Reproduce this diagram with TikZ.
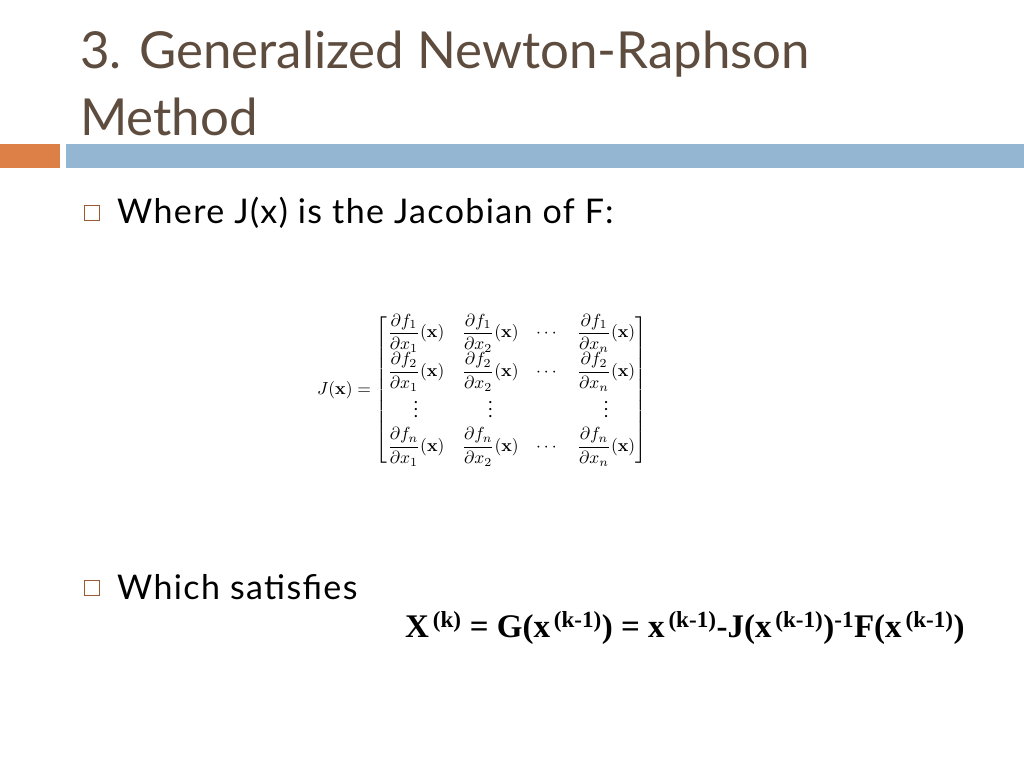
\documentclass[tikz,border=0pt]{standalone}
\usepackage{amsmath}
\usepackage{graphicx}
\usepackage[no-math]{fontspec}
\setmainfont{Lato}
\newfontfamily\formulafont{Liberation Serif}
\definecolor{titlebrown}{RGB}{94,76,62}
\definecolor{barorange}{RGB}{221,128,71}
\definecolor{barblue}{RGB}{148,182,210}
\usetikzlibrary{positioning}
\begin{document}
\begin{tikzpicture}[x=1pt,y=-1pt,
  title/.style = {anchor=base west, inner sep=0pt, text=titlebrown, font=\fontsize{51}{55}\selectfont},
  bullet/.style = {draw=barorange!70!black, line width=1pt, minimum size=15pt, inner sep=0pt},
  bodytext/.style = {anchor=base west, inner sep=0pt, font=\fontsize{34}{38}\selectfont\addfontfeature{LetterSpace=4}}]
  \useasboundingbox (0,0) rectangle (1024,768);
  % title and bars
  \node[title] (t1) at (80,68) {3. Generalized Newton-Raphson};
  \node[title] (t2) at (80,135) {Method};
  \fill[barorange] (0,144) rectangle (60,168);
  \fill[barblue] (66,144) rectangle (1024,168);
  % first bullet
  \node[bullet] (b1) at (92,213) {};
  \node[bodytext] (w1) at (117,223) {Where J(x) is the Jacobian of F:};
  \node[inner sep=0pt] (jac) at (482,390) {\scalebox{1.75}{$\displaystyle
    J(\mathbf{x})=\begin{bmatrix}
      \dfrac{\partial f_1}{\partial x_1}(\mathbf{x}) & \dfrac{\partial f_1}{\partial x_2}(\mathbf{x}) & \cdots & \dfrac{\partial f_1}{\partial x_n}(\mathbf{x})\\[4pt]
      \dfrac{\partial f_2}{\partial x_1}(\mathbf{x}) & \dfrac{\partial f_2}{\partial x_2}(\mathbf{x}) & \cdots & \dfrac{\partial f_2}{\partial x_n}(\mathbf{x})\\[2pt]
      \vdots & \vdots & & \vdots\\[2pt]
      \dfrac{\partial f_n}{\partial x_1}(\mathbf{x}) & \dfrac{\partial f_n}{\partial x_2}(\mathbf{x}) & \cdots & \dfrac{\partial f_n}{\partial x_n}(\mathbf{x})
    \end{bmatrix}$}};
  % second bullet
  \node[bullet] (b2) at (92,588) {};
  \node[bodytext] (w2) at (117,599) {Which satisfies};
  \node[anchor=base west, inner sep=0pt] (iter) at (405,637) {\formulafont\bfseries\fontsize{33}{36}\selectfont
    X\textsuperscript{\,(k)} = G(x\textsuperscript{\,(k-1)}) = x\textsuperscript{\,(k-1)}-J(x\textsuperscript{\,(k-1)})\textsuperscript{-1}F(x\textsuperscript{\,(k-1)})};
\end{tikzpicture}
\end{document}
